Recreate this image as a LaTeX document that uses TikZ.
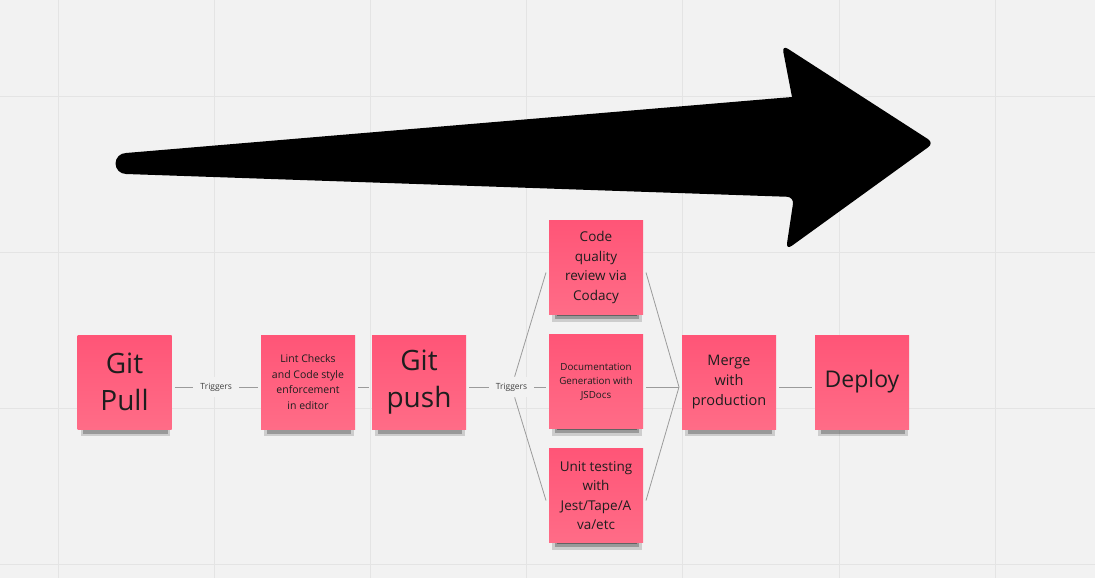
\documentclass[tikz,border=0pt]{standalone}
\usepackage{fontspec}
\setmainfont{Open Sans}
\usetikzlibrary{positioning,shadows}

\definecolor{board}{HTML}{F2F2F2}
\definecolor{gridline}{HTML}{E4E4E4}
\definecolor{noteTop}{HTML}{FF5577}
\definecolor{noteBot}{HTML}{FF6C87}
\definecolor{inkdark}{HTML}{1E1E1E}
\definecolor{linkgray}{HTML}{9B9B9B}

\begin{document}
\begin{tikzpicture}[
            x=1pt, y=-1pt,
            % Style giấy nhớ
            sticky/.style={
                minimum width=94pt,
                minimum height=94pt,
                inner sep=2pt,
                outer sep=3pt,
                align=center,
                text=inkdark,
                top color=noteTop,
                bottom color=noteBot,
                % bóng mờ: ba lớp chồng lên nhau
                drop shadow={shadow xshift=1pt, shadow yshift=-10pt,
                    shadow scale=0.95, opacity=.15, fill=black},
                drop shadow={shadow xshift=1pt, shadow yshift=-10.5pt,
                    shadow scale=0.90, opacity=.25, fill=black},
                drop shadow={shadow xshift=1.5pt, shadow yshift=-10pt,
                    shadow scale=0.85, opacity=.35, fill=black}
            },
            % Style đường nối
            link/.style={
                draw=linkgray,
                line width=0.8pt
            },
            % Style nhãn trên đường nối
            lbl/.style={
                fill=board,
                font=\fontsize{8.5}{10}\selectfont,
                text=black!75,
                inner xsep=7pt,
                inner ysep=6pt
            }
        ]
            % --- NỀN VÀ LƯỚI ---
            \useasboundingbox (0,0) rectangle (1095,578);
            \fill[board] (0,0) rectangle (1095,578);
            \foreach \gx in {58,214.2,370.4,526.6,682.8,839,995.2}
                \draw[gridline, line width=1pt] (\gx,0) -- (\gx,578);
            \foreach \gy in {96,252,408,564}
                \draw[gridline, line width=1pt] (0,\gy) -- (1095,\gy);

            % --- MŨI TÊN LỚN ---
            \fill[black] (126,174) arc[start angle=90, end angle=270, radius=10.5]
                -- (792,97) [rounded corners=7pt] -- (782,45) -- (934,143)
                -- (786,250) -- (794,197) [sharp corners] -- cycle;

            % --- GIẤY NHỚ ---
            \node[sticky, font=\fontsize{28}{37}\selectfont] (pull) at (124.5,382) {Git\\Pull};
            \node[sticky, font=\fontsize{10.5}{15.5}\selectfont] (lint) at (308,382)
                {Lint Checks\\and Code style\\enforcement\\in editor};
            \node[sticky, font=\fontsize{28}{37}\selectfont, right=11pt of lint] (push) {Git\\push};

            % Ba bước chạy song song
            \node[sticky, font=\fontsize{9.8}{14}\selectfont] (docs) at (596,381.5)
                {Documentation\\Generation with\\JSDocs};
            \node[sticky, font=\fontsize{13.5}{19.5}\selectfont, above=14pt of docs] (code)
                {Code\\quality\\review via\\Codacy};
            \node[sticky, font=\fontsize{13.5}{19.5}\selectfont, below=14pt of docs] (unit)
                {Unit testing\\with\\Jest/Tape/A\\va/etc};

            \node[sticky, font=\fontsize{14.5}{20}\selectfont] (merge) at (729,382)
                {Merge\\with\\production};
            \node[sticky, font=\fontsize{23}{30}\selectfont, right=33pt of merge] (deploy) {Deploy};

            % --- ĐƯỜNG NỐI ---
            \draw[link] ([yshift=-5pt]pull.east) -- node[lbl] (trig1) {Triggers} ([yshift=-5pt]lint.west);
            \draw[link] ([yshift=-5pt]lint.east) -- ([yshift=-5pt]push.west);

            % Nhánh tỏa ra từ Git push
            \node[lbl] (trig2) at (511.5,387) {Triggers};
            \draw[link] ([yshift=-5pt]push.east) -- (trig2.west);
            \draw[link] (trig2.east) -- ([yshift=-5.5pt]docs.west);
            \draw[link] (trig2) -- ([yshift=-5pt]code.west);
            \draw[link] (trig2) -- ([yshift=-5pt]unit.west);

            % Gộp về Merge
            \draw[link] ([yshift=-5pt]code.east) -- ([yshift=-5pt]merge.west);
            \draw[link] ([yshift=-5.5pt]docs.east) -- ([yshift=-5pt]merge.west);
            \draw[link] ([yshift=-5pt]unit.east) -- ([yshift=-5pt]merge.west);
            \draw[link] ([yshift=-5pt]merge.east) -- ([yshift=-5pt]deploy.west);

        \end{tikzpicture}
\end{document}
